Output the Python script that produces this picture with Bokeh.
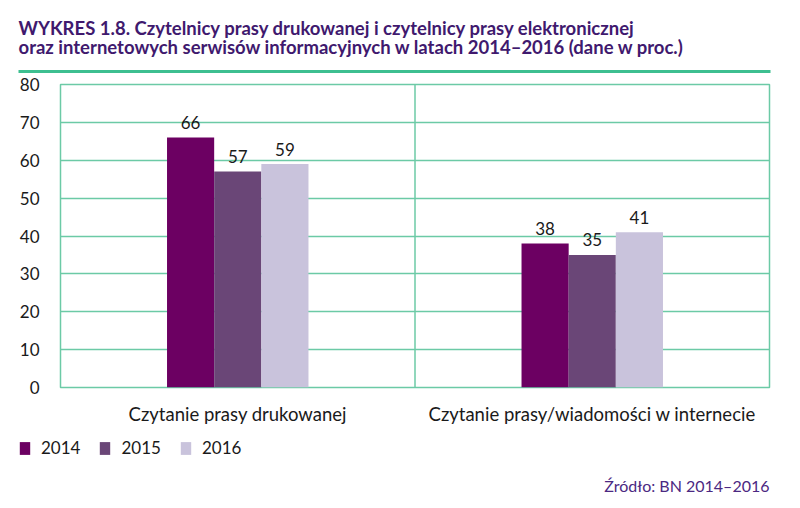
from bokeh.plotting import figure
from bokeh.models import (ColumnDataSource, FactorRange, Range1d, FixedTicker, Span,
                          Label, BoxAnnotation, Legend, LegendItem)
from bokeh.layouts import column
from bokeh.transform import dodge
from bokeh.core.properties import value
from bokeh.embed import file_html
from bokeh.resources import INLINE

categories = ["Czytanie prasy drukowanej", "Czytanie prasy/wiadomości w internecie"]
years = ["2014", "2015", "2016"]
v2014 = [66, 38]
v2015 = [57, 35]
v2016 = [59, 41]
y_ticks = [0, 10, 20, 30, 40, 50, 60, 70, 80]
title1 = "WYKRES 1.8. Czytelnicy prasy drukowanej i czytelnicy prasy elektronicznej"
title2 = "oraz internetowych serwisów informacyjnych w latach 2014–2016 (dane w proc.)"
source_text = "Źródło: BN 2014–2016"

colors = ["#6c0062", "#6a4677", "#c9c3dc"]
GREEN = "#6ccaa6"
FONT = "Lato"
TXT = "#1a1a1a"
PURPLE = "#40196e"
W = 784

src = ColumnDataSource(dict(cat=categories, y2014=v2014, y2015=v2015, y2016=v2016,
                            t2014=[str(v) for v in v2014],
                            t2015=[str(v) for v in v2015],
                            t2016=[str(v) for v in v2016]))


def blank(height, x_range):
    f = figure(width=W, height=height, x_range=x_range, y_range=Range1d(0, 1),
               output_backend="svg", toolbar_location=None, title=None,
               min_border_left=0, min_border_right=0, min_border_top=0, min_border_bottom=0,
               x_axis_type=None, y_axis_type=None)
    f.frame_align = False
    f.outline_line_color = None
    f.grid.visible = False
    f.background_fill_color = "white"
    f.border_fill_color = "white"
    return f


# ---- header ----
head = blank(73, Range1d(0, 1))
head.add_layout(Label(x=18, y=46, x_units="screen", y_units="screen", text=title1,
                      text_font=FONT, text_font_style="bold", text_font_size="18.5px",
                      text_color=PURPLE, text_baseline="alphabetic"))
head.add_layout(Label(x=18, y=27, x_units="screen", y_units="screen", text=title2,
                      text_font=FONT, text_font_style="bold", text_font_size="18.5px",
                      text_color=PURPLE, text_baseline="alphabetic"))
head.add_layout(BoxAnnotation(left=18, right=770, bottom=0, top=3.5,
                              left_units="screen", right_units="screen",
                              bottom_units="screen", top_units="screen",
                              fill_color="#3dbf90", fill_alpha=1, line_color=None))

# ---- main chart ----
p = figure(width=W, height=357, x_range=FactorRange(*categories), y_range=Range1d(0, 80),
           output_backend="svg", toolbar_location=None, title=None,
           min_border_left=60, min_border_right=15, min_border_top=11, min_border_bottom=43)
p.frame_align = False
p.background_fill_color = "white"
p.border_fill_color = "white"
p.outline_line_color = GREEN
p.outline_line_width = 1.5

bw = 0.133
offs = [-bw, 0.0, bw]
for yr, col, off in zip(years, colors, offs):
    p.vbar(x=dodge("cat", off, range=p.x_range), top="y" + yr, width=bw, source=src,
           fill_color=col, line_color=None)
    p.text(x=dodge("cat", off, range=p.x_range), y="y" + yr, text="t" + yr, source=src,
           text_align="center", text_baseline="alphabetic", y_offset=-15,
           text_font=value(FONT), text_font_size="17px", text_color=TXT)

p.xgrid.visible = False
p.ygrid.grid_line_color = GREEN
p.ygrid.grid_line_width = 1.5
p.yaxis.ticker = FixedTicker(ticks=y_ticks)
p.add_layout(Span(location=1, dimension="height", line_color=GREEN, line_width=1.5))

for ax in (p.xaxis[0], p.yaxis[0]):
    ax.axis_line_color = None
    ax.major_tick_line_color = None
    ax.minor_tick_line_color = None
    ax.major_tick_out = 0
    ax.major_tick_in = 0
    ax.major_label_text_font = FONT
    ax.major_label_text_color = TXT
p.yaxis.major_label_text_font_size = "17px"
p.yaxis.major_label_standoff = 21
p.xaxis.major_label_text_font_size = "18.5px"
p.xaxis.major_label_standoff = 15

# ---- footer: legend + source ----
foot = blank(70, FactorRange(*categories))
leg_r = []
for yr, col in zip(years, colors):
    # zero-size proxies (outside the footer's y-range) that only feed the legend
    leg_r.append(foot.vbar(x="cat", top="y" + yr, bottom="y" + yr, width=0, source=src,
                           fill_color=col, line_color=None))
legend = Legend(items=[LegendItem(label=yr, renderers=[r]) for yr, r in zip(years, leg_r)],
                orientation="horizontal", location=(18, 42),
                glyph_width=13, glyph_height=16, label_standoff=10, spacing=18,
                padding=0, margin=0, border_line_color=None, background_fill_alpha=0,
                label_text_font=FONT, label_text_font_size="17px", label_text_color=TXT,
                label_height=16)
foot.add_layout(legend, "center")
foot.add_layout(Label(x=769, y=15, x_units="screen", y_units="screen", text=source_text,
                      text_font=FONT, text_font_size="16px", text_color="#4b2882",
                      text_align="right", text_baseline="middle"))

layout = column(head, p, foot, spacing=0)
open("out.html", "w").write(file_html(layout, INLINE))
